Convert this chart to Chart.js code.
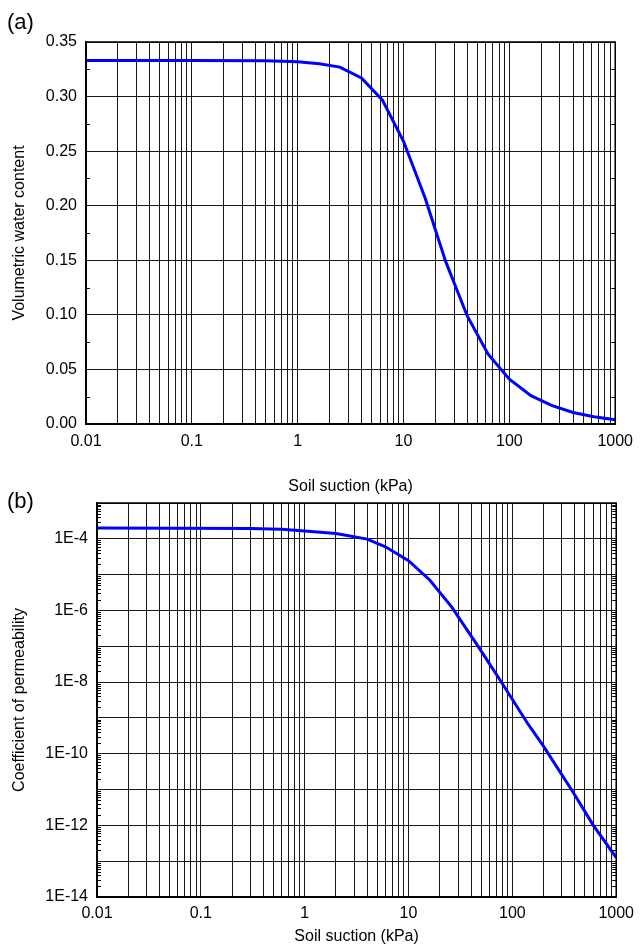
<!DOCTYPE html>
<html>
<head>
<meta charset="utf-8">
<script src="https://cdn.jsdelivr.net/npm/chart.js@4.4.1/dist/chart.umd.min.js"></script>
<style>
  body { margin: 0; background: #fff; width: 641px; height: 948px; position: relative; overflow: hidden; font-family: "Liberation Sans", Arial, sans-serif; }
  .wrap { position: absolute; left: 0; width: 641px; }
  #wrapA { top: 0; height: 500px; }
  #wrapB { top: 500px; height: 448px; }
  .panel { position: absolute; left: 7px; font-size: 22px; color: #000; line-height: 26px; }
</style>
</head>
<body>
<div class="wrap" id="wrapA"><canvas id="chartA"></canvas></div>
<div class="wrap" id="wrapB"><canvas id="chartB"></canvas></div>
<div class="panel" style="top:9px">(a)</div>
<div class="panel" style="top:488px">(b)</div>
<script>
// soil suction (kPa) and volumetric water content, panel (a)
const suctionA = [0.01, 0.1, 0.5, 1, 1.6, 2.5, 4, 6.3, 10, 16, 25, 40, 63, 100, 160, 250, 400, 630, 1000];
const thetaA   = [0.333, 0.333, 0.3328, 0.332, 0.330, 0.327, 0.317, 0.297, 0.259, 0.207, 0.149, 0.099, 0.064, 0.041, 0.026, 0.017, 0.0105, 0.0067, 0.0038];

// soil suction (kPa) and coefficient of permeability, panel (b)
const suctionB = [0.01, 0.3, 0.6, 1, 2, 4, 6, 10, 16, 26, 47, 78, 140, 200, 390, 600, 1000];
const permB    = [2.0e-4, 1.95e-4, 1.86e-4, 1.66e-4, 1.41e-4, 9.8e-5, 6.0e-5, 2.45e-5, 7.1e-6, 1.26e-6, 9.8e-8, 1.02e-8, 7.1e-10, 1.6e-10, 7.9e-12, 1.02e-12, 1.26e-13];

// tick labels
const xDecades = [0.01, 0.1, 1, 10, 100, 1000];
const xLabels  = ['0.01', '0.1', '1', '10', '100', '1000'];
const yTicksA  = [0, 0.05, 0.10, 0.15, 0.20, 0.25, 0.30, 0.35];
const yLabelsA = ['0.00', '0.05', '0.10', '0.15', '0.20', '0.25', '0.30', '0.35'];
const yDecadesB = [1e-14, 1e-13, 1e-12, 1e-11, 1e-10, 1e-9, 1e-8, 1e-7, 1e-6, 1e-5, 1e-4, 1e-3];
const yLabelsB  = ['1E-14', '', '1E-12', '', '1E-10', '', '1E-8', '', '1E-6', '', '1E-4', ''];

// grid at 1..9 of every decade
let xGrid = [];
for (let i = 0; i < xDecades.length - 1; i++) {
  for (let m = 1; m < 10; m++) xGrid.push(+(xDecades[i] * m).toPrecision(3));
}
xGrid.push(1000);

let minorA = [];
for (let i = 0; i < yTicksA.length - 1; i++) minorA.push((yTicksA[i] + yTicksA[i + 1]) / 2);
let minorB = [];
for (let i = 0; i < yDecadesB.length - 1; i++) {
  for (let m = 2; m < 10; m++) minorB.push(yDecadesB[i] * m);
}

const findLabel = (v, vals, labels) => {
  for (let i = 0; i < vals.length; i++) {
    if (vals[i] === 0 ? Math.abs(v) < 1e-12 : Math.abs(v - vals[i]) / vals[i] < 1e-6) return labels[i];
  }
  return '';
};

const tickFont = { family: '"Liberation Sans", Arial, sans-serif', size: 16 };
const gridColor = 'rgba(0,0,0,0.9)';

/* marco y marcas menores */
const frameTicks = {
  id: 'frameTicks',
  afterDraw(chart, args, opts) {
    const { ctx, chartArea: a } = chart;
    const ys = chart.scales.y;
    ctx.save();
    ctx.strokeStyle = '#000';
    ctx.lineWidth = 1;
    (opts.minor || []).forEach((v) => {
      const py = Math.round(ys.getPixelForValue(v)) + 0.5;
      ctx.beginPath();
      ctx.moveTo(a.left, py); ctx.lineTo(a.left + 4, py);
      ctx.moveTo(a.right, py); ctx.lineTo(a.right - 4, py);
      ctx.stroke();
    });
    ctx.lineWidth = 1.5;
    ctx.strokeRect(a.left, a.top, a.right - a.left, a.bottom - a.top);
    ctx.restore();
  }
};

function xScale(height, titlePad, tickPad) {
  return {
    type: 'logarithmic',
    min: 0.01,
    max: 1000,
    afterBuildTicks: (s) => { s.ticks = xGrid.map((v) => ({ value: v })); },
    afterFit: (s) => { s.height = height; },
    grid: { color: gridColor, lineWidth: 1, drawTicks: false },
    border: { display: true, color: '#000', width: 1.5 },
    ticks: {
      autoSkip: false, maxRotation: 0, padding: tickPad, color: '#000', font: tickFont,
      callback: (v) => findLabel(v, xDecades, xLabels),
    },
    title: { display: true, text: 'Soil suction (kPa)', color: '#000', font: tickFont, padding: { top: 0, bottom: titlePad } },
  };
}

/* Grafico (a) */
new Chart(document.getElementById('chartA'), {
  type: 'line',
  plugins: [frameTicks],
  data: {
    datasets: [{
      data: suctionA.map((s, i) => ({ x: s, y: thetaA[i] })),
      borderColor: '#0000ff',
      borderWidth: 3,
      pointRadius: 0,
      tension: 0,
      fill: false,
    }],
  },
  options: {
    responsive: true,
    maintainAspectRatio: false,
    animation: false,
    devicePixelRatio: 1,
    layout: { padding: { top: 42, right: 18, left: 0, bottom: 0 } },
    scales: {
      x: xScale(76, 4, 8),
      y: {
        min: 0,
        max: 0.35,
        afterBuildTicks: (s) => { s.ticks = yTicksA.map((v) => ({ value: v })); },
        afterFit: (s) => { s.width = 86; s.paddingTop = 0; s.paddingBottom = 0; },
        grid: { color: gridColor, lineWidth: 1, drawTicks: false },
        border: { display: true, color: '#000', width: 1.5 },
        ticks: { padding: 9, color: '#000', font: tickFont, callback: (v) => findLabel(v, yTicksA, yLabelsA) },
        title: { display: true, text: 'Volumetric water content', color: '#000', font: tickFont, padding: { top: 10, bottom: 0 } },
      },
    },
    plugins: {
      legend: { display: false },
      tooltip: { enabled: false },
      frameTicks: { minor: minorA },
    },
  },
});

/* Grafico (b) */
new Chart(document.getElementById('chartB'), {
  type: 'line',
  plugins: [frameTicks],
  data: {
    datasets: [{
      data: suctionB.map((s, i) => ({ x: s, y: permB[i] })),
      borderColor: '#0000ff',
      borderWidth: 3,
      pointRadius: 0,
      tension: 0,
      fill: false,
    }],
  },
  options: {
    responsive: true,
    maintainAspectRatio: false,
    animation: false,
    devicePixelRatio: 1,
    layout: { padding: { top: 3, right: 18, left: 0, bottom: 0 } },
    scales: {
      x: xScale(51, 1.4, 7),
      y: {
        type: 'logarithmic',
        min: 1e-14,
        max: 1e-3,
        afterBuildTicks: (s) => { s.ticks = yDecadesB.map((v) => ({ value: v })); },
        afterFit: (s) => { s.width = 97; s.paddingTop = 0; s.paddingBottom = 0; },
        grid: { color: gridColor, lineWidth: 1, drawTicks: false },
        border: { display: true, color: '#000', width: 1.5 },
        ticks: { autoSkip: false, padding: 9, color: '#000', font: tickFont, callback: (v) => findLabel(v, yDecadesB, yLabelsB) },
        title: { display: true, text: 'Coefficient of permeability', color: '#000', font: tickFont, padding: { top: 10, bottom: 0 } },
      },
    },
    plugins: {
      legend: { display: false },
      tooltip: { enabled: false },
      frameTicks: { minor: minorB },
    },
  },
});
</script>
</body>
</html>
